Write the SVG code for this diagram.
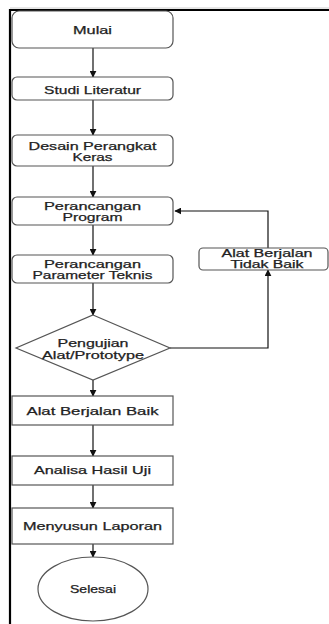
<svg xmlns="http://www.w3.org/2000/svg" width="329" height="624" viewBox="0 0 329 624">
<style>
.box{fill:#fff;stroke:#555;stroke-width:1.2}
.t{font-family:"Liberation Sans",Arial,sans-serif;font-size:11px;fill:#222;stroke:#222;stroke-width:0.25;text-anchor:middle;dominant-baseline:central}
.s{font-size:10px}
.ln{fill:none;stroke:#111;stroke-width:1.2}
</style>
<defs>
<marker id="ah" viewBox="0 0 10 10" refX="9" refY="5" markerWidth="7" markerHeight="7" markerUnits="userSpaceOnUse" orient="auto">
<path d="M0,0 L10,5 L0,10 z" fill="#111"/>
</marker>
</defs>
<rect width="329" height="624" fill="#fff"/>
<path d="M10,624 V10 H329" fill="none" stroke="#000" stroke-width="2.2"/>
<line x1="10" y1="8" x2="329" y2="8" stroke="#ccc" stroke-width="1"/>
<g id="connectors">
<line class="ln" x1="93" y1="48" x2="93" y2="77" marker-end="url(#ah)"/>
<line class="ln" x1="93" y1="100" x2="93" y2="135" marker-end="url(#ah)"/>
<line class="ln" x1="93" y1="166" x2="93" y2="197" marker-end="url(#ah)"/>
<line class="ln" x1="93" y1="225" x2="93" y2="255" marker-end="url(#ah)"/>
<line class="ln" x1="93" y1="283" x2="93" y2="315" marker-end="url(#ah)"/>
<line class="ln" x1="93" y1="380" x2="93" y2="396" marker-end="url(#ah)"/>
<line class="ln" x1="93" y1="425" x2="93" y2="456" marker-end="url(#ah)"/>
<line class="ln" x1="93" y1="485" x2="93" y2="508" marker-end="url(#ah)"/>
<line class="ln" x1="93" y1="544" x2="93" y2="557" marker-end="url(#ah)"/>
<polyline class="ln" points="170,348 268,348 268,270" marker-end="url(#ah)"/>
<polyline class="ln" points="268,248 268,211 175,211" marker-end="url(#ah)"/>
</g>
<g id="mulai"><rect class="box" x="12" y="11" width="161" height="37" rx="7"/><text class="t" x="92.5" y="30" textLength="39" lengthAdjust="spacingAndGlyphs">Mulai</text></g>
<g id="studi"><rect class="box" x="12" y="77" width="161" height="23" rx="5"/><text class="t" x="92.5" y="90" textLength="97" lengthAdjust="spacingAndGlyphs">Studi Literatur</text></g>
<g id="desain"><rect class="box" x="12" y="135" width="161" height="31" rx="5"/><text class="t" x="92.5" y="146" textLength="128" lengthAdjust="spacingAndGlyphs">Desain Perangkat</text><text class="t" x="92.5" y="157" textLength="40" lengthAdjust="spacingAndGlyphs">Keras</text></g>
<g id="program"><rect class="box" x="12" y="197" width="161" height="28" rx="5"/><text class="t" x="92.5" y="206" textLength="97" lengthAdjust="spacingAndGlyphs">Perancangan</text><text class="t" x="92.5" y="217" textLength="60" lengthAdjust="spacingAndGlyphs">Program</text></g>
<g id="parameter"><rect class="box" x="12" y="255" width="161" height="28" rx="5"/><text class="t" x="92.5" y="264" textLength="97" lengthAdjust="spacingAndGlyphs">Perancangan</text><text class="t" x="92.5" y="275" textLength="120" lengthAdjust="spacingAndGlyphs">Parameter Teknis</text></g>
<g id="pengujian"><polygon class="box" points="93,315 170,348 93,380 16,348"/><text class="t" x="93" y="343" textLength="71" lengthAdjust="spacingAndGlyphs">Pengujian</text><text class="t" x="93" y="355" textLength="102" lengthAdjust="spacingAndGlyphs">Alat/Prototype</text></g>
<g id="tidakbaik"><rect class="box" x="199" y="248" width="129" height="22" rx="4"/><text class="t s" x="267" y="253.5" textLength="91" lengthAdjust="spacingAndGlyphs">Alat Berjalan</text><text class="t s" x="267" y="264.5" textLength="73" lengthAdjust="spacingAndGlyphs">Tidak Baik</text></g>
<g id="baik"><rect class="box" x="12" y="396" width="161" height="29"/><text class="t" x="92.5" y="411" textLength="132" lengthAdjust="spacingAndGlyphs">Alat Berjalan Baik</text></g>
<g id="analisa"><rect class="box" x="12" y="456" width="161" height="29"/><text class="t" x="92.5" y="470" textLength="117" lengthAdjust="spacingAndGlyphs">Analisa Hasil Uji</text></g>
<g id="laporan"><rect class="box" x="12" y="508" width="161" height="36"/><text class="t" x="92.5" y="526" textLength="139" lengthAdjust="spacingAndGlyphs">Menyusun Laporan</text></g>
<g id="selesai"><ellipse class="box" cx="93" cy="589" rx="55" ry="32"/><text class="t" x="93" y="589" textLength="46" lengthAdjust="spacingAndGlyphs">Selesai</text></g>
</svg>
